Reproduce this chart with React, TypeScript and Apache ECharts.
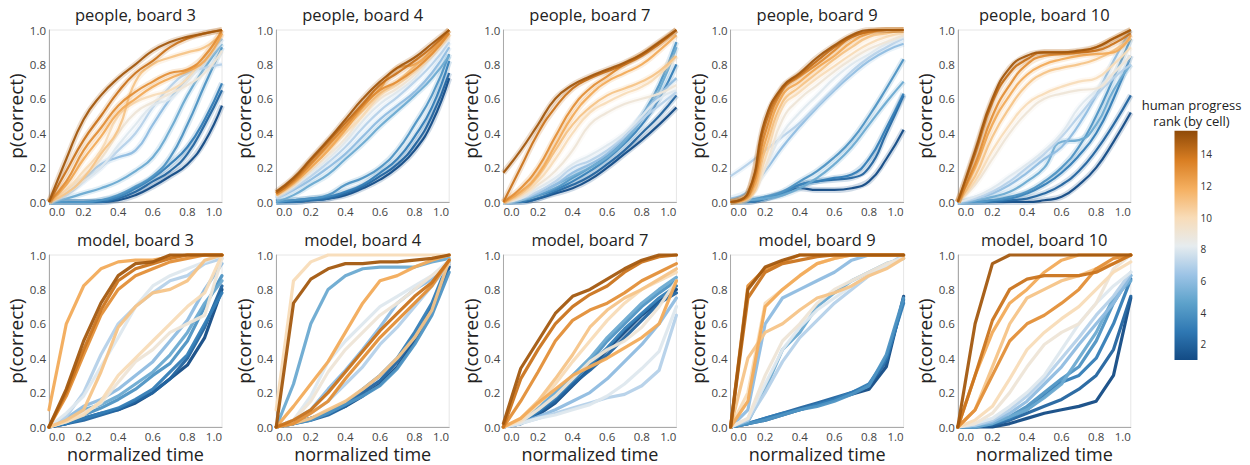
import React, { useEffect, useRef } from "react";
import * as echarts from "echarts";

// normalized time sample points shared by every line
const timePoints = [0, 0.1, 0.2, 0.3, 0.4, 0.5, 0.6, 0.7, 0.8, 0.9, 1.0];
const legendTicks = [2, 4, 6, 8, 10, 12, 14];
const rankMin = 1;
const rankMax = 15.5;

// each row = one cell, index 0 = rank 1 ... index 14 = rank 15; values = p(correct) at timePoints
const people3 = [
  [0, 0, 0, 0, 0.01, 0.04, 0.09, 0.15, 0.22, 0.35, 0.56],
  [0, 0, 0, 0, 0.02, 0.06, 0.12, 0.18, 0.28, 0.45, 0.65],
  [0, 0, 0, 0.01, 0.03, 0.08, 0.14, 0.22, 0.32, 0.48, 0.69],
  [0, 0, 0, 0.01, 0.04, 0.09, 0.15, 0.26, 0.45, 0.68, 0.9],
  [0, 0.02, 0.05, 0.08, 0.12, 0.18, 0.26, 0.42, 0.62, 0.78, 0.92],
  [0, 0.05, 0.13, 0.22, 0.26, 0.3, 0.45, 0.6, 0.72, 0.82, 0.95],
  [0, 0.04, 0.12, 0.2, 0.3, 0.4, 0.55, 0.67, 0.75, 0.78, 0.8],
  [0, 0.05, 0.12, 0.2, 0.33, 0.45, 0.56, 0.6, 0.7, 0.82, 0.93],
  [0, 0.07, 0.15, 0.25, 0.4, 0.52, 0.58, 0.63, 0.68, 0.75, 0.88],
  [0, 0.07, 0.18, 0.3, 0.5, 0.58, 0.62, 0.65, 0.72, 0.85, 0.97],
  [0, 0.05, 0.14, 0.28, 0.42, 0.7, 0.8, 0.84, 0.87, 0.9, 0.98],
  [0, 0.1, 0.25, 0.38, 0.52, 0.6, 0.67, 0.72, 0.76, 0.82, 0.98],
  [0, 0.12, 0.3, 0.43, 0.56, 0.64, 0.7, 0.75, 0.77, 0.85, 1],
  [0, 0.18, 0.36, 0.5, 0.64, 0.75, 0.82, 0.9, 0.95, 0.98, 1],
  [0, 0.25, 0.48, 0.62, 0.72, 0.8, 0.88, 0.93, 0.96, 0.98, 1],
];

const people4 = [
  [0, 0, 0.01, 0.02, 0.04, 0.08, 0.13, 0.2, 0.3, 0.46, 0.72],
  [0, 0, 0.01, 0.02, 0.05, 0.09, 0.15, 0.22, 0.33, 0.5, 0.75],
  [0, 0.01, 0.02, 0.03, 0.06, 0.1, 0.17, 0.25, 0.38, 0.55, 0.82],
  [0, 0.01, 0.02, 0.04, 0.1, 0.14, 0.2, 0.3, 0.45, 0.62, 0.86],
  [0, 0.04, 0.1, 0.16, 0.25, 0.34, 0.44, 0.53, 0.62, 0.72, 0.85],
  [0.02, 0.07, 0.13, 0.2, 0.28, 0.38, 0.48, 0.56, 0.64, 0.75, 0.9],
  [0.02, 0.08, 0.15, 0.23, 0.32, 0.43, 0.53, 0.61, 0.7, 0.8, 0.93],
  [0.03, 0.09, 0.17, 0.25, 0.35, 0.47, 0.57, 0.64, 0.72, 0.84, 0.95],
  [0.04, 0.1, 0.18, 0.27, 0.37, 0.5, 0.6, 0.66, 0.74, 0.85, 0.96],
  [0.04, 0.1, 0.2, 0.3, 0.4, 0.5, 0.62, 0.68, 0.76, 0.86, 0.97],
  [0.05, 0.12, 0.22, 0.32, 0.43, 0.53, 0.63, 0.7, 0.79, 0.88, 0.98],
  [0.04, 0.11, 0.2, 0.3, 0.42, 0.55, 0.66, 0.78, 0.8, 0.88, 1],
  [0.05, 0.12, 0.22, 0.33, 0.44, 0.56, 0.65, 0.7, 0.77, 0.86, 0.98],
  [0.05, 0.13, 0.24, 0.35, 0.46, 0.57, 0.68, 0.75, 0.82, 0.9, 1],
  [0.06, 0.14, 0.25, 0.36, 0.48, 0.6, 0.7, 0.78, 0.84, 0.92, 1],
];

const people7 = [
  [0, 0, 0.02, 0.05, 0.08, 0.13, 0.2, 0.28, 0.36, 0.45, 0.55],
  [0, 0, 0.02, 0.06, 0.1, 0.15, 0.22, 0.3, 0.4, 0.5, 0.62],
  [0, 0.01, 0.04, 0.07, 0.12, 0.18, 0.25, 0.34, 0.45, 0.6, 0.8],
  [0, 0.01, 0.04, 0.08, 0.14, 0.2, 0.27, 0.36, 0.5, 0.68, 0.93],
  [0, 0.01, 0.05, 0.1, 0.15, 0.2, 0.26, 0.35, 0.48, 0.65, 0.9],
  [0, 0.02, 0.05, 0.1, 0.17, 0.22, 0.28, 0.38, 0.5, 0.62, 0.72],
  [0, 0.02, 0.06, 0.12, 0.2, 0.24, 0.3, 0.38, 0.48, 0.56, 0.64],
  [0, 0.02, 0.08, 0.14, 0.22, 0.27, 0.33, 0.4, 0.5, 0.6, 0.65],
  [0, 0.03, 0.1, 0.18, 0.3, 0.45, 0.52, 0.57, 0.6, 0.63, 0.68],
  [0, 0.04, 0.12, 0.25, 0.4, 0.52, 0.58, 0.63, 0.67, 0.74, 0.85],
  [0, 0.05, 0.15, 0.3, 0.45, 0.55, 0.62, 0.66, 0.7, 0.76, 0.85],
  [0, 0.06, 0.16, 0.33, 0.5, 0.62, 0.7, 0.75, 0.8, 0.88, 0.97],
  [0, 0.08, 0.2, 0.38, 0.55, 0.66, 0.73, 0.8, 0.86, 0.92, 1],
  [0, 0.2, 0.4, 0.55, 0.66, 0.72, 0.76, 0.8, 0.85, 0.92, 1],
  [0.17, 0.3, 0.45, 0.6, 0.68, 0.73, 0.77, 0.81, 0.86, 0.93, 1],
];

const people9 = [
  [0, 0, 0.02, 0.05, 0.08, 0.07, 0.07, 0.08, 0.12, 0.25, 0.42],
  [0, 0, 0.02, 0.05, 0.1, 0.12, 0.13, 0.14, 0.2, 0.4, 0.62],
  [0, 0.01, 0.02, 0.05, 0.1, 0.12, 0.14, 0.16, 0.25, 0.43, 0.63],
  [0, 0.01, 0.03, 0.06, 0.12, 0.18, 0.26, 0.36, 0.5, 0.66, 0.83],
  [0, 0.01, 0.02, 0.04, 0.08, 0.14, 0.22, 0.32, 0.45, 0.58, 0.7],
  [0.02, 0.06, 0.18, 0.32, 0.44, 0.55, 0.65, 0.74, 0.82, 0.88, 0.92],
  [0.15, 0.22, 0.3, 0.38, 0.46, 0.56, 0.66, 0.76, 0.84, 0.9, 0.95],
  [0, 0.03, 0.2, 0.4, 0.52, 0.62, 0.72, 0.8, 0.86, 0.92, 0.96],
  [0, 0.02, 0.2, 0.48, 0.6, 0.68, 0.76, 0.83, 0.89, 0.93, 0.97],
  [0, 0.02, 0.25, 0.55, 0.64, 0.72, 0.79, 0.86, 0.92, 0.96, 0.98],
  [0, 0.02, 0.3, 0.58, 0.67, 0.75, 0.83, 0.9, 0.96, 0.98, 1],
  [0, 0.03, 0.35, 0.62, 0.7, 0.78, 0.85, 0.93, 0.98, 1, 1],
  [0, 0.04, 0.4, 0.65, 0.73, 0.8, 0.88, 0.96, 0.99, 1, 1],
  [0, 0.05, 0.45, 0.66, 0.74, 0.82, 0.9, 0.96, 0.99, 1, 1],
  [0, 0.05, 0.48, 0.67, 0.75, 0.84, 0.91, 0.97, 1, 1, 1],
];

const people10 = [
  [0, 0, 0, 0, 0, 0.01, 0.03, 0.1, 0.2, 0.35, 0.52],
  [0, 0, 0, 0.01, 0.02, 0.05, 0.1, 0.18, 0.3, 0.45, 0.62],
  [0, 0, 0.01, 0.02, 0.05, 0.1, 0.17, 0.27, 0.4, 0.6, 0.85],
  [0, 0, 0.01, 0.03, 0.06, 0.12, 0.2, 0.32, 0.5, 0.72, 0.95],
  [0, 0.01, 0.03, 0.06, 0.12, 0.2, 0.35, 0.36, 0.45, 0.65, 0.8],
  [0, 0.02, 0.05, 0.1, 0.17, 0.25, 0.32, 0.45, 0.62, 0.82, 1],
  [0, 0.02, 0.06, 0.12, 0.2, 0.28, 0.38, 0.5, 0.62, 0.72, 0.8],
  [0, 0.03, 0.08, 0.15, 0.22, 0.3, 0.4, 0.55, 0.65, 0.75, 0.85],
  [0, 0.1, 0.25, 0.4, 0.52, 0.6, 0.63, 0.65, 0.66, 0.75, 0.85],
  [0, 0.12, 0.3, 0.45, 0.57, 0.63, 0.67, 0.7, 0.72, 0.8, 0.9],
  [0, 0.15, 0.38, 0.55, 0.68, 0.75, 0.78, 0.8, 0.83, 0.88, 0.95],
  [0, 0.2, 0.45, 0.62, 0.74, 0.8, 0.83, 0.85, 0.86, 0.87, 0.97],
  [0, 0.22, 0.5, 0.68, 0.8, 0.85, 0.86, 0.87, 0.9, 0.95, 1],
  [0, 0.28, 0.58, 0.75, 0.83, 0.87, 0.87, 0.87, 0.88, 0.92, 0.98],
  [0, 0.3, 0.6, 0.78, 0.85, 0.87, 0.87, 0.88, 0.9, 0.95, 1],
];

const model3 = [
  [0, 0.02, 0.05, 0.08, 0.1, 0.14, 0.2, 0.28, 0.36, 0.52, 0.8],
  [0, 0.02, 0.04, 0.07, 0.1, 0.15, 0.2, 0.28, 0.4, 0.58, 0.82],
  [0, 0.02, 0.05, 0.08, 0.11, 0.16, 0.22, 0.32, 0.42, 0.6, 0.78],
  [0, 0.03, 0.07, 0.11, 0.16, 0.22, 0.3, 0.37, 0.5, 0.7, 0.88],
  [0, 0.04, 0.1, 0.13, 0.18, 0.25, 0.32, 0.42, 0.55, 0.72, 0.85],
  [0, 0.05, 0.12, 0.16, 0.22, 0.3, 0.38, 0.5, 0.62, 0.8, 0.95],
  [0, 0.06, 0.2, 0.42, 0.6, 0.7, 0.78, 0.85, 0.88, 0.95, 0.98],
  [0, 0.08, 0.18, 0.35, 0.52, 0.7, 0.82, 0.88, 0.92, 0.96, 1],
  [0, 0.03, 0.08, 0.14, 0.26, 0.38, 0.45, 0.55, 0.6, 0.65, 0.98],
  [0, 0.03, 0.07, 0.15, 0.3, 0.4, 0.5, 0.6, 0.7, 0.78, 1],
  [0, 0.04, 0.1, 0.32, 0.58, 0.7, 0.78, 0.8, 0.85, 0.97, 1],
  [0.1, 0.6, 0.82, 0.92, 0.96, 0.97, 0.97, 0.99, 1, 1, 1],
  [0, 0.18, 0.42, 0.65, 0.8, 0.88, 0.92, 0.96, 0.98, 1, 1],
  [0, 0.2, 0.45, 0.68, 0.85, 0.92, 0.95, 0.98, 1, 1, 1],
  [0, 0.22, 0.5, 0.72, 0.88, 0.95, 0.96, 1, 1, 1, 1],
];

const model4 = [
  [0, 0.02, 0.05, 0.08, 0.12, 0.18, 0.25, 0.35, 0.5, 0.7, 0.93],
  [0, 0.02, 0.04, 0.07, 0.12, 0.2, 0.27, 0.38, 0.52, 0.68, 0.95],
  [0, 0.02, 0.05, 0.09, 0.14, 0.22, 0.3, 0.4, 0.55, 0.72, 0.97],
  [0, 0.02, 0.04, 0.08, 0.13, 0.18, 0.24, 0.34, 0.48, 0.65, 0.9],
  [0, 0.25, 0.6, 0.8, 0.88, 0.92, 0.93, 0.93, 0.93, 0.96, 0.98],
  [0, 0.04, 0.1, 0.22, 0.33, 0.45, 0.58, 0.72, 0.8, 0.86, 0.95],
  [0, 0.03, 0.08, 0.15, 0.25, 0.35, 0.48, 0.58, 0.7, 0.82, 0.95],
  [0, 0.04, 0.18, 0.38, 0.5, 0.6, 0.7, 0.76, 0.82, 0.88, 0.97],
  [0, 0.04, 0.15, 0.32, 0.45, 0.55, 0.65, 0.72, 0.8, 0.88, 0.95],
  [0.1, 0.85, 0.96, 1, 1, 1, 1, 1, 1, 1, 1],
  [0, 0.02, 0.05, 0.1, 0.15, 0.22, 0.3, 0.4, 0.52, 0.68, 0.97],
  [0, 0.12, 0.25, 0.38, 0.55, 0.72, 0.85, 0.88, 0.93, 0.97, 1],
  [0, 0.02, 0.08, 0.15, 0.28, 0.4, 0.52, 0.62, 0.72, 0.82, 0.97],
  [0, 0.04, 0.1, 0.2, 0.32, 0.44, 0.56, 0.66, 0.76, 0.84, 0.97],
  [0, 0.72, 0.86, 0.92, 0.95, 0.95, 0.96, 0.96, 0.97, 0.98, 1],
];

const model7 = [
  [0, 0.02, 0.07, 0.14, 0.24, 0.34, 0.45, 0.55, 0.65, 0.73, 0.8],
  [0, 0.02, 0.08, 0.15, 0.25, 0.33, 0.42, 0.52, 0.62, 0.72, 0.78],
  [0, 0.02, 0.09, 0.17, 0.27, 0.36, 0.46, 0.57, 0.66, 0.75, 0.82],
  [0, 0.03, 0.1, 0.18, 0.28, 0.38, 0.5, 0.6, 0.7, 0.78, 0.85],
  [0, 0.03, 0.11, 0.2, 0.3, 0.4, 0.52, 0.62, 0.72, 0.8, 0.87],
  [0, 0.02, 0.06, 0.1, 0.15, 0.2, 0.28, 0.38, 0.48, 0.6, 0.75],
  [0, 0.02, 0.05, 0.08, 0.11, 0.14, 0.17, 0.19, 0.24, 0.33, 0.65],
  [0, 0.02, 0.05, 0.07, 0.1, 0.13, 0.18, 0.25, 0.34, 0.44, 0.7],
  [0, 0.03, 0.1, 0.18, 0.28, 0.38, 0.45, 0.5, 0.58, 0.7, 0.85],
  [0, 0.04, 0.13, 0.25, 0.38, 0.5, 0.62, 0.72, 0.8, 0.85, 0.9],
  [0, 0.05, 0.15, 0.28, 0.42, 0.58, 0.68, 0.75, 0.8, 0.86, 0.92],
  [0, 0.05, 0.14, 0.22, 0.3, 0.35, 0.4, 0.46, 0.52, 0.6, 0.85],
  [0, 0.15, 0.32, 0.5, 0.62, 0.68, 0.72, 0.78, 0.85, 0.9, 0.95],
  [0, 0.28, 0.45, 0.6, 0.7, 0.77, 0.82, 0.9, 0.96, 0.99, 1],
  [0.02, 0.34, 0.5, 0.66, 0.76, 0.8, 0.86, 0.92, 0.97, 1, 1],
];

const model9 = [
  [0, 0.02, 0.04, 0.07, 0.1, 0.13, 0.16, 0.19, 0.22, 0.35, 0.76],
  [0, 0.02, 0.05, 0.08, 0.11, 0.14, 0.17, 0.2, 0.24, 0.38, 0.74],
  [0, 0.02, 0.05, 0.08, 0.1, 0.13, 0.16, 0.2, 0.25, 0.4, 0.72],
  [0, 0.02, 0.04, 0.07, 0.1, 0.12, 0.15, 0.19, 0.24, 0.42, 0.75],
  [0, 0.03, 0.22, 0.45, 0.55, 0.7, 0.78, 0.85, 0.9, 0.95, 0.98],
  [0, 0.1, 0.6, 0.75, 0.8, 0.85, 0.9, 0.97, 1, 1, 1],
  [0, 0.04, 0.2, 0.38, 0.52, 0.62, 0.72, 0.8, 0.88, 0.94, 1],
  [0, 0.05, 0.25, 0.45, 0.58, 0.68, 0.75, 0.82, 0.88, 0.94, 0.99],
  [0, 0.05, 0.3, 0.5, 0.6, 0.72, 0.8, 0.85, 0.9, 0.95, 0.98],
  [0, 0.2, 0.72, 0.8, 0.88, 0.95, 0.98, 1, 1, 1, 1],
  [0, 0.4, 0.55, 0.6, 0.68, 0.75, 0.78, 0.82, 0.88, 0.92, 0.98],
  [0, 0.15, 0.7, 0.8, 0.88, 0.95, 0.98, 1, 1, 1, 1],
  [0, 0.82, 0.92, 0.96, 1, 1, 1, 1, 1, 1, 1],
  [0, 0.75, 0.9, 0.95, 0.97, 0.99, 1, 1, 1, 1, 1],
  [0, 0.8, 0.93, 0.97, 1, 1, 1, 1, 1, 1, 1],
];

const model10 = [
  [0, 0, 0, 0.02, 0.05, 0.08, 0.1, 0.12, 0.15, 0.3, 0.75],
  [0, 0, 0.01, 0.04, 0.08, 0.12, 0.16, 0.22, 0.3, 0.45, 0.76],
  [0, 0, 0.02, 0.05, 0.1, 0.18, 0.26, 0.3, 0.4, 0.6, 0.86],
  [0, 0, 0.03, 0.06, 0.12, 0.2, 0.28, 0.35, 0.5, 0.72, 0.88],
  [0, 0, 0.02, 0.06, 0.1, 0.17, 0.25, 0.4, 0.55, 0.75, 0.85],
  [0, 0.01, 0.03, 0.08, 0.15, 0.25, 0.35, 0.48, 0.6, 0.72, 0.88],
  [0, 0.01, 0.04, 0.1, 0.18, 0.28, 0.4, 0.52, 0.65, 0.76, 0.9],
  [0, 0.02, 0.05, 0.12, 0.2, 0.3, 0.45, 0.6, 0.72, 0.82, 0.9],
  [0, 0.02, 0.08, 0.2, 0.35, 0.48, 0.55, 0.6, 0.72, 0.92, 1],
  [0, 0.04, 0.12, 0.28, 0.45, 0.55, 0.63, 0.7, 0.8, 0.9, 0.96],
  [0, 0.1, 0.35, 0.6, 0.75, 0.8, 0.85, 0.88, 0.92, 0.95, 1],
  [0, 0.3, 0.55, 0.72, 0.8, 0.9, 0.97, 1, 1, 1, 1],
  [0, 0.1, 0.3, 0.5, 0.6, 0.65, 0.72, 0.8, 0.92, 0.98, 1],
  [0, 0.3, 0.62, 0.8, 0.86, 0.88, 0.88, 0.88, 0.9, 0.95, 1],
  [0, 0.6, 0.95, 1, 1, 1, 1, 1, 1, 1, 1],
];

const panelTitles = [
  "people, board 3", "people, board 4", "people, board 7", "people, board 9", "people, board 10",
  "model, board 3", "model, board 4", "model, board 7", "model, board 9", "model, board 10",
];
const panelData = [people3, people4, people7, people9, people10, model3, model4, model7, model9, model10];

// diverging blue-orange colour stops (rank -> colour)
const colorStops: [number, string][] = [
  [1, "#134b85"],
  [2.8, "#2f78b3"],
  [4.6, "#5da2cb"],
  [6.4, "#9dc4e6"],
  [8.2, "#e6ecef"],
  [10, "#f8dcb8"],
  [11.8, "#f5b061"],
  [13.6, "#da7f23"],
  [15.5, "#8f4a08"],
];

function hexToRgb(h: string) {
  return [parseInt(h.slice(1, 3), 16), parseInt(h.slice(3, 5), 16), parseInt(h.slice(5, 7), 16)];
}
function rankColor(r: number) {
  for (let i = 0; i < colorStops.length - 1; i++) {
    const [r0, c0] = colorStops[i];
    const [r1, c1] = colorStops[i + 1];
    if (r <= r1 || i === colorStops.length - 2) {
      const f = Math.max(0, Math.min(1, (r - r0) / (r1 - r0)));
      const a = hexToRgb(c0);
      const b = hexToRgb(c1);
      const m = a.map((v, k) => Math.round(v + (b[k] - v) * f));
      return `rgb(${m[0]},${m[1]},${m[2]})`;
    }
  }
  return colorStops[0][1];
}

const FONT = "'Open Sans', 'Noto Sans', sans-serif";

export default function App() {
  const ref = useRef<HTMLDivElement>(null);
  useEffect(() => {
    if (!ref.current) return;
    const chart = echarts.init(ref.current, undefined, { renderer: "svg" });

    const W = 173;
    const H = 172;
    const LEFT0 = 49;
    const STEP = 227.2;
    const TOPS = [30, 255];

    const grids: any[] = [];
    const xAxes: any[] = [];
    const yAxes: any[] = [];
    const series: any[] = [];
    const graphics: any[] = [];

    panelData.forEach((lines, i) => {
      const row = Math.floor(i / 5);
      const col = i % 5;
      const left = LEFT0 + col * STEP;
      const top = TOPS[row];
      grids.push({ left, top, width: W, height: H, show: true, borderColor: "#e6e6e6", borderWidth: 1, backgroundColor: "transparent" });
      xAxes.push({
        gridIndex: i, type: "value", min: 0, max: 1, interval: 0.2,
        axisLine: { show: true, onZero: false, lineStyle: { color: "#aaa" } },
        axisTick: { show: false },
        splitLine: { show: false },
        axisLabel: {
          formatter: (v: number) => v.toFixed(1), fontFamily: FONT, fontSize: 11.5, color: "#444", margin: 3,
          alignMinLabel: "left", alignMaxLabel: "right",
        },
        name: row === 1 ? "normalized time" : "",
        nameLocation: "middle", nameGap: 18,
        nameTextStyle: { fontFamily: FONT, fontSize: 18, color: "#222" },
      });
      yAxes.push({
        gridIndex: i, type: "value", min: 0, max: 1, interval: 0.2,
        axisLine: { show: true, onZero: false, lineStyle: { color: "#aaa" } },
        axisTick: { show: false },
        splitLine: { show: false },
        axisLabel: { formatter: (v: number) => v.toFixed(1), fontFamily: FONT, fontSize: 11.5, color: "#444", margin: 3 },
        name: "p(correct)", nameLocation: "middle", nameGap: 23,
        nameTextStyle: { fontFamily: FONT, fontSize: 19, color: "#222" },
      });
      graphics.push({
        type: "text", x: left + W / 2, y: top - 16,
        style: { text: panelTitles[i], fontFamily: FONT, fontSize: 16.5, fill: "#222", textAlign: "center", textVerticalAlign: "middle" },
      });
      const isPeople = row === 0;
      lines.forEach((ys, j) => {
        const rank = j + 1;
        const color = rankColor(rank);
        const data = timePoints.map((t, k) => [t, ys[k]]);
        if (isPeople) {
          series.push({
            type: "line", xAxisIndex: i, yAxisIndex: i, data, smooth: 0.35, showSymbol: false, silent: true, clip: false,
            lineStyle: { color, width: 6, opacity: 0.2 },
          });
          series.push({
            type: "line", xAxisIndex: i, yAxisIndex: i, data, smooth: 0.5, showSymbol: false, silent: true, clip: false,
            lineStyle: { color, width: 2.2, opacity: 0.95 },
          });
        } else {
          series.push({
            type: "line", xAxisIndex: i, yAxisIndex: i, data, smooth: false, showSymbol: false, silent: true, clip: false,
            lineStyle: { color, width: 3.2, opacity: 0.95, join: "round", cap: "round" },
          });
        }
      });
    });

    // colour legend
    const barX = 1174.5;
    const barTop = 130.7;
    const barBottom = 360;
    const barW = 23;
    const toY = (v: number) => barBottom - ((v - rankMin) / (rankMax - rankMin)) * (barBottom - barTop);
    graphics.push({
      type: "text", x: 1191.5, y: 105,
      style: { text: "human progress", fontFamily: FONT, fontSize: 13, fill: "#222", textAlign: "center", textVerticalAlign: "middle" },
    });
    graphics.push({
      type: "text", x: 1191.5, y: 121,
      style: { text: "rank (by cell)", fontFamily: FONT, fontSize: 13, fill: "#222", textAlign: "center", textVerticalAlign: "middle" },
    });
    graphics.push({
      type: "rect",
      shape: { x: barX, y: barTop, width: barW, height: barBottom - barTop },
      style: {
        fill: {
          type: "linear", x: 0, y: 1, x2: 0, y2: 0,
          colorStops: colorStops.map(([r, c]) => ({ offset: (r - rankMin) / (rankMax - rankMin), color: c })),
        },
      },
    });
    legendTicks.forEach((v) => {
      graphics.push({
        type: "text", x: barX + barW + 3, y: toY(v),
        style: { text: String(v), fontFamily: FONT, fontSize: 10, fill: "#333", textAlign: "left", textVerticalAlign: "middle" },
      });
    });

    chart.setOption({
      animation: false,
      backgroundColor: "#fff",
      grid: grids,
      xAxis: xAxes,
      yAxis: yAxes,
      series,
      graphic: graphics,
    });
    return () => chart.dispose();
  }, []);

  return <div ref={ref} style={{ position: "fixed", left: 0, top: 0, width: 1250, height: 465 }} />;
}
